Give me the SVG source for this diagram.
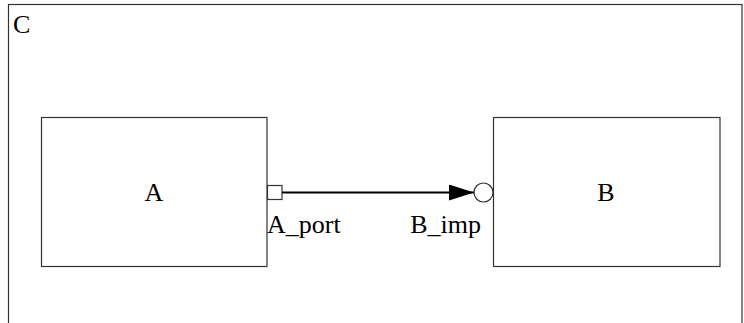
<svg xmlns="http://www.w3.org/2000/svg" width="744" height="323" viewBox="0 0 744 323">
<defs>
<style>
.box{fill:#fff;stroke:#333;stroke-width:1.2}
.lbl{font-family:"Liberation Serif",serif;font-size:26px;fill:#000}
.conn{stroke:#000;stroke-width:2;fill:none}
</style>
<marker id="arr" markerWidth="26" markerHeight="16" refX="25" refY="8" orient="auto" markerUnits="userSpaceOnUse">
<path d="M0,0 L25,8 L0,16 Z" fill="#000"/>
</marker>
</defs>
<rect width="744" height="323" fill="#fff"/>
<g id="C">
<rect class="box" x="8.5" y="4.5" width="733.5" height="340"/>
<text class="lbl" x="13" y="33">C</text>
</g>
<g id="A">
<rect class="box" x="41.5" y="117.5" width="225.5" height="149"/>
<text class="lbl" x="154" y="201" text-anchor="middle">A</text>
</g>
<g id="B">
<rect class="box" x="493.5" y="117.5" width="226.5" height="149"/>
<text class="lbl" x="606" y="201" text-anchor="middle">B</text>
</g>
<g id="A_port">
<rect class="box" x="267.5" y="185.5" width="14.5" height="14"/>
<text class="lbl" x="267" y="233">A_port</text>
</g>
<g id="B_imp">
<circle class="box" cx="483.5" cy="192.5" r="9.5"/>
<text class="lbl" x="481" y="233" text-anchor="end">B_imp</text>
</g>
<g id="connectors">
<line class="conn" x1="282" y1="192.5" x2="474" y2="192.5" marker-end="url(#arr)"/>
</g>
</svg>
